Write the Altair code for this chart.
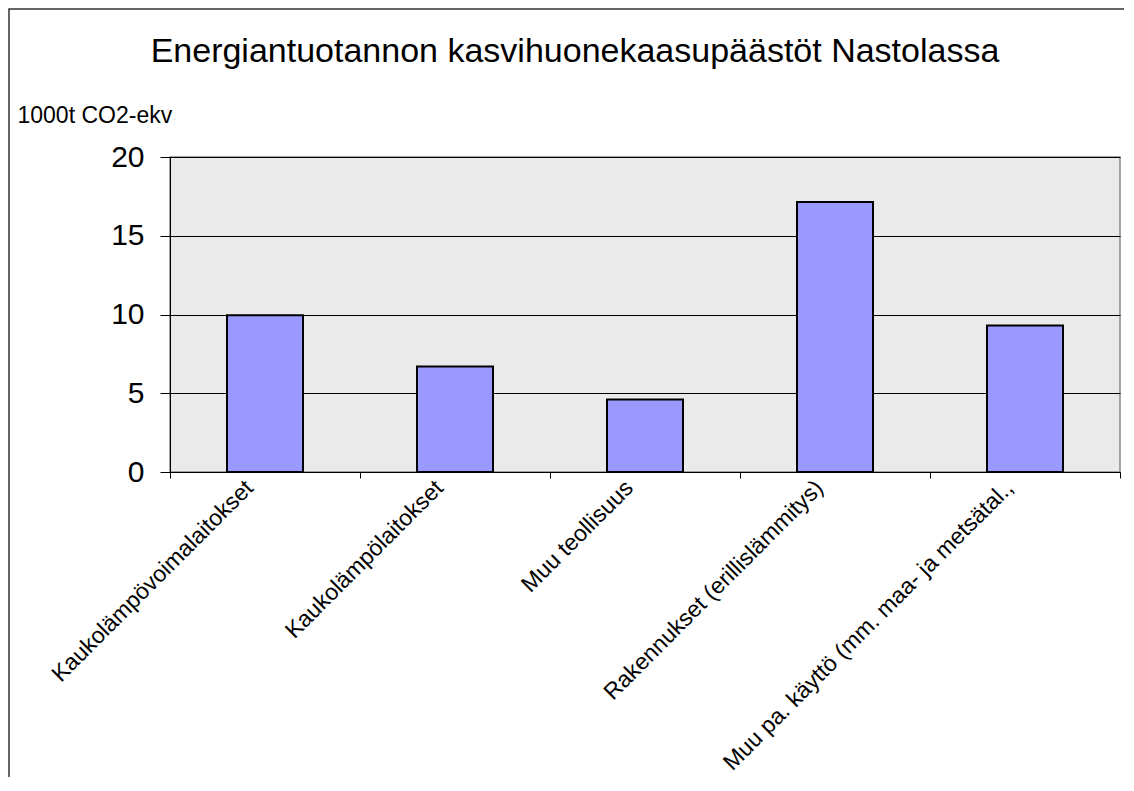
import altair as alt
import pandas as pd

categories = [
    "Kaukolämpövoimalaitokset",
    "Kaukolämpölaitokset",
    "Muu teollisuus",
    "Rakennukset (erillislämmitys)",
    "Muu pa. käyttö (mm. maa- ja metsätal.,",
]
values = [9.95, 6.7, 4.6, 17.15, 9.3]
y_ticks = [0, 5, 10, 15, 20]
title_text = "Energiantuotannon kasvihuonekaasupäästöt Nastolassa"
y_title = "1000t CO2-ekv"

FONT = "Liberation Sans"
W, H = 950, 315

df = pd.DataFrame({"cat": categories, "val": values})

x = alt.X(
    "cat:N",
    sort=categories,
    scale=alt.Scale(paddingInner=0, paddingOuter=0),
    axis=alt.Axis(
        title=None,
        labelAngle=-45,
        labelAlign="right",
        labelBaseline="middle",
        labelFontSize=23,
        labelFont=FONT,
        labelColor="black",
        labelPadding=6,
        labelOffset=-16,
        labelLimit=0,
        tickBand="extent",
        tickSize=6,
        tickColor="black",
        domainColor="black",
        grid=False,
    ),
)
y = alt.Y(
    "val:Q",
    scale=alt.Scale(domain=[0, 20], nice=False),
    axis=alt.Axis(
        values=y_ticks,
        title=y_title,
        titleAngle=0,
        titleAlign="left",
        titleBaseline="alphabetic",
        titleX=-153,
        titleY=-35,
        titleFontSize=23,
        titleFontWeight="normal",
        titleFont=FONT,
        titleColor="black",
        labelFontSize=30,
        labelFont=FONT,
        labelColor="black",
        labelPadding=16,
        tickSize=10,
        tickColor="black",
        domainColor="black",
        grid=True,
        gridColor="black",
        gridWidth=1,
        gridOpacity=1,
    ),
)

bars = alt.Chart(df).mark_bar(
    color="#9999ff", stroke="black", strokeWidth=2,
    width=alt.RelativeBandSize(0.4),
).encode(x=x, y=y)

frame = alt.Chart(pd.DataFrame({"a": [0]})).mark_rect(
    fill=None, stroke="#333333", strokeWidth=1.5, clip=False
).encode(
    x=alt.value(-161), x2=alt.value(2000), y=alt.value(-148), y2=alt.value(2000)
)

title = alt.Chart(pd.DataFrame({"t": [title_text]})).mark_text(
    font=FONT, fontSize=34, color="black", align="center", baseline="alphabetic"
).encode(text="t:N", x=alt.value(405), y=alt.value(-95))

chart = alt.layer(frame, bars, title).properties(
    width=W,
    height=H,
    autosize=alt.AutoSizeParams(type="none"),
    padding={"left": 162, "top": 149, "right": 4, "bottom": 305},
    background="white",
).configure_view(
    fill="#eaeaea", stroke="#888888", strokeWidth=1.5
)

chart.save("out.html", embed_options={"renderer": "svg", "actions": False})
